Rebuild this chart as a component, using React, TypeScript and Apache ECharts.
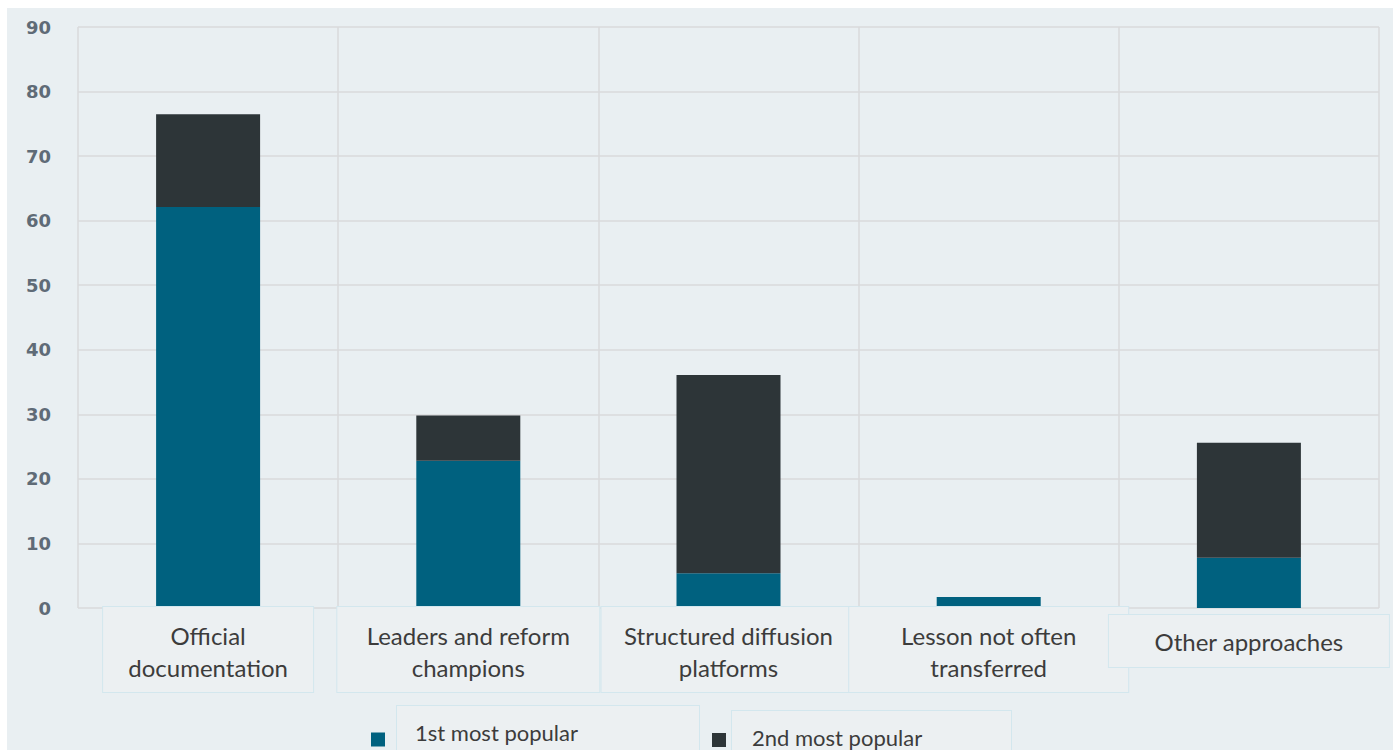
import React, { useEffect, useRef } from "react";
import * as echarts from "echarts";

// ---- data ----
const categories = [
  "Official\ndocumentation",
  "Leaders and reform\nchampions",
  "Structured diffusion\nplatforms",
  "Lesson not often\ntransferred",
  "Other approaches",
];
const firstMostPopular = [62.1, 22.8, 5.4, 1.7, 7.8];
const secondMostPopular = [14.4, 7.0, 30.7, 0, 17.8];
const seriesNames = ["1st most popular", "2nd most popular"];
const yMin = 0;
const yMax = 90;
const yInterval = 10;

// ---- styles ----
const BG = "#e9eff2";
const BOX_BG = "#ecf0f2";
const BOX_BORDER = "#d3e7ee";
const TEXT = "#3c3c3c";
const GRID = "#d8dadb";
const C1 = "#00617f";
const C2 = "#2d3538";
const labelBoxWidths = [190, 242, 234, 259, 260];

export default function App() {
  const ref = useRef<HTMLDivElement>(null);

  useEffect(() => {
    document.body.style.margin = "0";
    if (!ref.current) return;
    const chart = echarts.init(ref.current, null, { renderer: "svg" });

    const xData = categories.map((c, i) => {
      if (i === categories.length - 1) {
        return {
          value: c,
          textStyle: {
            backgroundColor: "transparent",
            borderWidth: 0,
            padding: 0,
            rich: {
              sp: { height: 8, lineHeight: 8, fontSize: 1 },
              box: {
                fontFamily: "Lato",
                fontSize: 24,
                color: TEXT,
                lineHeight: 52,
                height: 32,
                width: labelBoxWidths[i],
                align: "center",
                padding: [10, 10, 10, 10],
                backgroundColor: BOX_BG,
                borderColor: BOX_BORDER,
                borderWidth: 1,
              },
            },
          },
        };
      }
      return {
        value: c,
        textStyle: {
          width: labelBoxWidths[i],
          padding: [12, 10, 9, 10],
          backgroundColor: BOX_BG,
          borderColor: BOX_BORDER,
          borderWidth: 1,
        },
      };
    });

    const legendText = {
      fontFamily: "Lato",
      fontSize: 22,
      color: TEXT,
    };

    chart.setOption({
      animation: false,
      backgroundColor: "#ffffff",
      graphic: [
        {
          type: "rect",
          z: -10,
          silent: true,
          shape: { x: 7, y: 8, width: 1393, height: 750 },
          style: { fill: BG },
        },
      ],
      grid: { left: 78, top: 27, width: 1301, height: 581 },
      legend: [
        {
          data: [seriesNames[0]],
          left: 371,
          top: 705,
          padding: 0,
          icon: "rect",
          itemWidth: 14,
          itemHeight: 14,
          formatter: (n: string) => `{g|}{b|${n}}`,
          textStyle: {
            ...legendText,
            rich: {
              g: { width: 7 },
              b: {
                ...legendText,
                lineHeight: 26,
                height: 26,
                width: 266,
                padding: [13, 18, 28, 18],
                backgroundColor: BOX_BG,
                borderColor: BOX_BORDER,
                borderWidth: 1,
              },
            },
          },
        },
        {
          data: [seriesNames[1]],
          left: 712,
          top: 710,
          padding: 0,
          icon: "rect",
          itemWidth: 14,
          itemHeight: 14,
          formatter: (n: string) => `{g|}{b|${n}}`,
          textStyle: {
            ...legendText,
            rich: {
              g: { width: 1 },
              b: {
                ...legendText,
                lineHeight: 26,
                height: 26,
                width: 239,
                padding: [13, 20, 19, 20],
                backgroundColor: BOX_BG,
                borderColor: BOX_BORDER,
                borderWidth: 1,
              },
            },
          },
        },
      ],
      xAxis: {
        type: "category",
        data: xData,
        axisLine: { show: false },
        axisTick: { show: false },
        splitLine: { show: true, interval: 0, lineStyle: { color: GRID, width: 1.5 } },
        axisLabel: {
          interval: 0,
          margin: -1,
          verticalAlign: "top",
          fontFamily: "Lato",
          fontSize: 24,
          lineHeight: 32,
          color: TEXT,
          formatter: (v: string, i: number) =>
            i === categories.length - 1 ? `{sp| }\n{box|${v}}` : v,
        },
        z: 5,
      },
      yAxis: {
        type: "value",
        min: yMin,
        max: yMax,
        interval: yInterval,
        axisLine: { show: false },
        axisTick: { show: false },
        splitLine: { show: true, lineStyle: { color: GRID, width: 1.5 } },
        axisLabel: {
          margin: 27,
          fontFamily: "DejaVu Sans",
          fontWeight: "bold",
          fontSize: 18,
          color: "#5f6b77",
        },
      },
      series: [
        {
          name: seriesNames[0],
          type: "bar",
          stack: "total",
          barWidth: 104,
          data: firstMostPopular,
          itemStyle: { color: C1 },
          z: 2,
        },
        {
          name: seriesNames[1],
          type: "bar",
          stack: "total",
          barWidth: 104,
          data: secondMostPopular,
          itemStyle: { color: C2 },
          z: 2,
        },
      ],
    });

    return () => chart.dispose();
  }, []);

  return <div ref={ref} style={{ width: 1393, height: 750 }} />;
}
